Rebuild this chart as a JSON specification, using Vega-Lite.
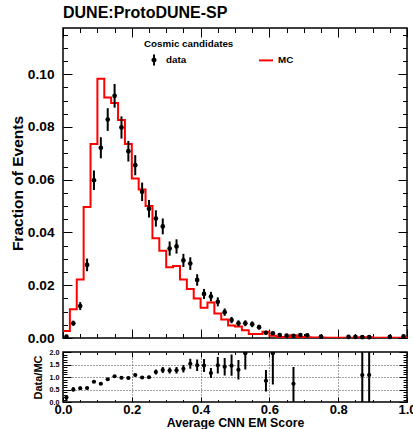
{
  "$schema": "https://vega.github.io/schema/vega-lite/v6.json",
  "background": "white",
  "padding": {"left": 9, "top": 3, "right": 5, "bottom": 0},
  "autosize": {"type": "pad"},
  "spacing": 1,
  "resolve": {"legend": {"color": "independent"}},
  "datasets": {
    "mc": [
      {"x": 0.00, "frac": 0.0027}, {"x": 0.02, "frac": 0.0109}, {"x": 0.04, "frac": 0.0222}, {"x": 0.06, "frac": 0.0497},
      {"x": 0.08, "frac": 0.0735}, {"x": 0.10, "frac": 0.0983}, {"x": 0.12, "frac": 0.0912}, {"x": 0.14, "frac": 0.0891},
      {"x": 0.16, "frac": 0.0826}, {"x": 0.18, "frac": 0.0735}, {"x": 0.20, "frac": 0.0605}, {"x": 0.22, "frac": 0.0563},
      {"x": 0.24, "frac": 0.0500}, {"x": 0.26, "frac": 0.0378}, {"x": 0.28, "frac": 0.0331}, {"x": 0.30, "frac": 0.0268},
      {"x": 0.32, "frac": 0.0273}, {"x": 0.34, "frac": 0.0222}, {"x": 0.36, "frac": 0.0186}, {"x": 0.38, "frac": 0.0150},
      {"x": 0.40, "frac": 0.0115}, {"x": 0.42, "frac": 0.0135}, {"x": 0.44, "frac": 0.0093}, {"x": 0.46, "frac": 0.0070},
      {"x": 0.48, "frac": 0.0047}, {"x": 0.50, "frac": 0.0044}, {"x": 0.52, "frac": 0.0029}, {"x": 0.54, "frac": 0.0015},
      {"x": 0.56, "frac": 0.0015}, {"x": 0.58, "frac": 0.0024}, {"x": 0.60, "frac": 0.0009}, {"x": 0.62, "frac": 0.0004},
      {"x": 0.64, "frac": 0.0004}, {"x": 0.66, "frac": 0.0010}, {"x": 0.68, "frac": 0.0004}, {"x": 0.70, "frac": 0.0003},
      {"x": 0.72, "frac": 0.0002}, {"x": 0.74, "frac": 0.0002}, {"x": 0.76, "frac": 0.0001}, {"x": 0.78, "frac": 0.0001},
      {"x": 0.80, "frac": 0.0001}, {"x": 0.82, "frac": 0.0001}, {"x": 0.84, "frac": 0.0001}, {"x": 0.86, "frac": 0.0003},
      {"x": 0.88, "frac": 0.0003}, {"x": 0.90, "frac": 0.0001}, {"x": 0.92, "frac": 0.0001}, {"x": 0.94, "frac": 0.0001},
      {"x": 0.96, "frac": 0.0001}, {"x": 0.98, "frac": 0.0001}, {"x": 1.00, "frac": 0.0001}
    ],
    "obs": [
      {"x": 0.01, "frac": 0.0005, "err": 0.0003}, {"x": 0.03, "frac": 0.0056, "err": 0.0010},
      {"x": 0.05, "frac": 0.0121, "err": 0.0015}, {"x": 0.07, "frac": 0.0277, "err": 0.0024},
      {"x": 0.09, "frac": 0.0598, "err": 0.0037}, {"x": 0.11, "frac": 0.0721, "err": 0.0040},
      {"x": 0.13, "frac": 0.0828, "err": 0.0043}, {"x": 0.15, "frac": 0.0918, "err": 0.0045},
      {"x": 0.17, "frac": 0.0798, "err": 0.0042}, {"x": 0.19, "frac": 0.0708, "err": 0.0039},
      {"x": 0.21, "frac": 0.0655, "err": 0.0038}, {"x": 0.23, "frac": 0.0554, "err": 0.0035},
      {"x": 0.25, "frac": 0.0490, "err": 0.0033}, {"x": 0.27, "frac": 0.0453, "err": 0.0031},
      {"x": 0.29, "frac": 0.0423, "err": 0.0030}, {"x": 0.31, "frac": 0.0339, "err": 0.0027},
      {"x": 0.33, "frac": 0.0347, "err": 0.0027}, {"x": 0.35, "frac": 0.0294, "err": 0.0025},
      {"x": 0.37, "frac": 0.0282, "err": 0.0024}, {"x": 0.39, "frac": 0.0220, "err": 0.0022},
      {"x": 0.41, "frac": 0.0167, "err": 0.0019}, {"x": 0.43, "frac": 0.0157, "err": 0.0018},
      {"x": 0.45, "frac": 0.0137, "err": 0.0017}, {"x": 0.47, "frac": 0.0098, "err": 0.0014},
      {"x": 0.49, "frac": 0.0068, "err": 0.0012}, {"x": 0.51, "frac": 0.0056, "err": 0.0011},
      {"x": 0.53, "frac": 0.0056, "err": 0.0011}, {"x": 0.55, "frac": 0.0052, "err": 0.0011},
      {"x": 0.57, "frac": 0.0041, "err": 0.0009}, {"x": 0.59, "frac": 0.0020, "err": 0.0007},
      {"x": 0.61, "frac": 0.0018, "err": 0.0006}, {"x": 0.63, "frac": 0.0011, "err": 0.0005},
      {"x": 0.65, "frac": 0.0009, "err": 0.0004}, {"x": 0.67, "frac": 0.0008, "err": 0.0004},
      {"x": 0.69, "frac": 0.0011, "err": 0.0005}, {"x": 0.71, "frac": 0.0010, "err": 0.0004},
      {"x": 0.75, "frac": 0.0005, "err": 0.0003}, {"x": 0.83, "frac": 0.0004, "err": 0.0003},
      {"x": 0.85, "frac": 0.0004, "err": 0.0003}, {"x": 0.87, "frac": 0.0003, "err": 0.0003},
      {"x": 0.89, "frac": 0.0003, "err": 0.0003}, {"x": 0.95, "frac": 0.0004, "err": 0.0003},
      {"x": 0.99, "frac": 0.0006, "err": 0.0003}
    ],
    "ratio": [
      {"x": 0.01, "r": 0.18, "lo": 0.08, "hi": 0.28}, {"x": 0.03, "r": 0.50, "lo": 0.42, "hi": 0.60},
      {"x": 0.05, "r": 0.55, "lo": 0.48, "hi": 0.62}, {"x": 0.07, "r": 0.56, "lo": 0.51, "hi": 0.61},
      {"x": 0.09, "r": 0.81, "lo": 0.76, "hi": 0.86}, {"x": 0.11, "r": 0.73, "lo": 0.68, "hi": 0.78},
      {"x": 0.13, "r": 0.91, "lo": 0.86, "hi": 0.96}, {"x": 0.15, "r": 1.03, "lo": 0.98, "hi": 1.08},
      {"x": 0.17, "r": 0.97, "lo": 0.92, "hi": 1.02}, {"x": 0.19, "r": 0.96, "lo": 0.91, "hi": 1.01},
      {"x": 0.21, "r": 1.08, "lo": 1.02, "hi": 1.14}, {"x": 0.23, "r": 0.98, "lo": 0.92, "hi": 1.04},
      {"x": 0.25, "r": 0.99, "lo": 0.93, "hi": 1.05}, {"x": 0.27, "r": 1.20, "lo": 1.10, "hi": 1.30},
      {"x": 0.29, "r": 1.28, "lo": 1.16, "hi": 1.40}, {"x": 0.31, "r": 1.26, "lo": 1.14, "hi": 1.38},
      {"x": 0.33, "r": 1.27, "lo": 1.14, "hi": 1.40}, {"x": 0.35, "r": 1.33, "lo": 1.18, "hi": 1.48},
      {"x": 0.37, "r": 1.53, "lo": 1.33, "hi": 1.73}, {"x": 0.39, "r": 1.47, "lo": 1.24, "hi": 1.70},
      {"x": 0.41, "r": 1.46, "lo": 1.20, "hi": 1.72}, {"x": 0.43, "r": 1.16, "lo": 0.96, "hi": 1.36},
      {"x": 0.45, "r": 1.47, "lo": 1.14, "hi": 1.80}, {"x": 0.47, "r": 1.41, "lo": 1.06, "hi": 1.76},
      {"x": 0.49, "r": 1.45, "lo": 1.05, "hi": 1.90}, {"x": 0.51, "r": 1.29, "lo": 0.90, "hi": 1.68},
      {"x": 0.53, "r": 1.95, "lo": 1.30, "hi": 2.60}, {"x": 0.59, "r": 0.85, "lo": 0.42, "hi": 1.28},
      {"x": 0.61, "r": 1.95, "lo": 0.70, "hi": 3.20}, {"x": 0.67, "r": 0.73, "lo": 0.0, "hi": 1.40},
      {"x": 0.87, "r": 1.08, "lo": 0.0, "hi": 2.60}, {"x": 0.89, "r": 1.08, "lo": 0.0, "hi": 2.60}
    ]
  },
  "vconcat": [
    {
      "width": 344,
      "height": 310,
      "title": {"text": "DUNE:ProtoDUNE-SP", "anchor": "start", "frame": "group", "font": "Liberation Sans", "fontSize": 16, "fontWeight": "bold", "color": "black", "offset": 7},
      "resolve": {"axis": {"x": "independent", "y": "independent"}},
      "layer": [
        {
          "data": {"name": "mc"},
          "mark": {"type": "line", "interpolate": "step-after", "strokeWidth": 2, "clip": true},
          "encoding": {
            "x": {"field": "x", "type": "quantitative", "scale": {"domain": [0, 1], "nice": false, "zero": false},
              "axis": {"orient": "bottom", "values": [0,0.05,0.1,0.15,0.2,0.25,0.3,0.35,0.4,0.45,0.5,0.55,0.6,0.65,0.7,0.75,0.8,0.85,0.9,0.95,1.0],
                "labels": false, "title": null, "domain": false, "grid": false, "tickColor": "black", "tickWidth": 1,
                "tickSize": {"condition": {"test": "abs(datum.value*5 - round(datum.value*5)) < 0.001", "value": -9}, "value": -4.5}}},
            "y": {"field": "frac", "type": "quantitative", "scale": {"domain": [0, 0.1175], "nice": false},
              "axis": {"orient": "left", "values": [0,0.005,0.01,0.015,0.02,0.025,0.03,0.035,0.04,0.045,0.05,0.055,0.06,0.065,0.07,0.075,0.08,0.085,0.09,0.095,0.1,0.105,0.11,0.115],
                "labelExpr": "abs(datum.value*50 - round(datum.value*50)) < 0.001 ? format(datum.value, '.2f') : ''",
                "labelOverlap": false, "labelFlush": false, "labelPadding": 18, "labelFontSize": 13.7, "labelFontWeight": "bold",
                "title": "Fraction of Events", "titleFontSize": 15.5, "titleFontWeight": "bold", "titlePadding": 2,
                "domain": false, "grid": false, "tickColor": "black", "tickWidth": 1,
                "tickSize": {"condition": {"test": "abs(datum.value*50 - round(datum.value*50)) < 0.001", "value": -9}, "value": -4.5}}},
            "color": {"datum": "MC", "scale": {"domain": ["data", "MC"], "range": ["black", "#ff0000"]},
              "legend": {"orient": "none", "legendX": 81, "legendY": 11, "direction": "horizontal", "title": "Cosmic candidates",
                "titleFont": "Liberation Sans", "titleFontSize": 9.8, "titleFontWeight": "bold", "titleColor": "black", "titlePadding": 4,
                "labelFont": "Liberation Sans", "labelFontSize": 9.8, "labelFontWeight": "bold", "labelColor": "black", "labelOffset": 5,
                "symbolSize": 196, "symbolOffset": 3, "columnPadding": 69, "padding": 0,
                "encode": {"symbols": {"update": {
                  "shape": {"signal": "datum.value === 'MC' ? 'M-1,-0.14H1V0.14H-1Z' : 'M-0.14,-0.8H0.14V0.8H-0.14Z M-0.36,0A0.36,0.36 0 1,1 0.36,0A0.36,0.36 0 1,1 -0.36,0Z'"},
                  "fill": {"signal": "datum.value === 'MC' ? '#ff0000' : 'black'"},
                  "fillOpacity": {"value": 1},
                  "stroke": {"value": "transparent"},
                  "strokeWidth": {"value": 0},
                  "opacity": {"value": 1},
                  "size": {"value": 196}}}}}}
          }
        },
        {
          "data": {"name": "obs"},
          "mark": {"type": "errorbar", "thickness": 2},
          "encoding": {
            "x": {"field": "x", "type": "quantitative",
              "axis": {"orient": "top", "values": [0,0.05,0.1,0.15,0.2,0.25,0.3,0.35,0.4,0.45,0.5,0.55,0.6,0.65,0.7,0.75,0.8,0.85,0.9,0.95,1.0],
                "labels": false, "title": null, "domain": false, "grid": false, "tickColor": "black", "tickWidth": 1,
                "tickSize": {"condition": {"test": "abs(datum.value*5 - round(datum.value*5)) < 0.001", "value": -9}, "value": -4.5}}},
            "y": {"field": "frac", "type": "quantitative",
              "axis": {"orient": "right", "values": [0,0.005,0.01,0.015,0.02,0.025,0.03,0.035,0.04,0.045,0.05,0.055,0.06,0.065,0.07,0.075,0.08,0.085,0.09,0.095,0.1,0.105,0.11,0.115],
                "labels": false, "title": null, "domain": false, "grid": false, "tickColor": "black", "tickWidth": 1,
                "tickSize": {"condition": {"test": "abs(datum.value*50 - round(datum.value*50)) < 0.001", "value": -9}, "value": -4.5}}},
            "yError": {"field": "err"},
            "color": {"datum": "data"}
          }
        },
        {
          "data": {"name": "obs"},
          "mark": {"type": "point", "filled": true, "size": 22, "opacity": 1},
          "encoding": {
            "x": {"field": "x", "type": "quantitative", "axis": null},
            "y": {"field": "frac", "type": "quantitative", "axis": null},
            "color": {"datum": "data"}
          }
        }
      ]
    },
    {
      "width": 344,
      "height": 50,
      "data": {"name": "ratio"},
      "resolve": {"axis": {"x": "independent", "y": "independent"}},
      "layer": [
        {
          "mark": {"type": "rule", "strokeWidth": 2, "color": "black", "clip": true},
          "encoding": {
            "x": {"field": "x", "type": "quantitative", "scale": {"domain": [0, 1], "nice": false, "zero": false},
              "axis": {"orient": "bottom", "values": [0,0.05,0.1,0.15,0.2,0.25,0.3,0.35,0.4,0.45,0.5,0.55,0.6,0.65,0.7,0.75,0.8,0.85,0.9,0.95,1.0],
                "labelExpr": "abs(datum.value*5 - round(datum.value*5)) < 0.001 ? format(datum.value, '.1f') : ''",
                "labelOverlap": false, "labelFlush": false, "labelPadding": 6, "labelFontSize": 13, "labelFontWeight": "bold",
                "title": "Average CNN EM Score", "titleFontSize": 12.3, "titleFontWeight": "bold", "titlePadding": -2,
                "domain": false, "grid": true, "gridColor": "#444444", "gridDash": [1, 2], "gridWidth": 1,
                "gridOpacity": {"condition": {"test": "abs(datum.value*5 - round(datum.value*5)) < 0.001", "value": 1}, "value": 0},
                "tickColor": "black", "tickWidth": 1,
                "tickSize": {"condition": {"test": "abs(datum.value*5 - round(datum.value*5)) < 0.001", "value": -5}, "value": -2.5}}},
            "y": {"field": "lo", "type": "quantitative", "scale": {"domain": [0, 2], "nice": false, "zero": false},
              "axis": {"orient": "left", "values": [0,0.1,0.2,0.3,0.4,0.5,0.6,0.7,0.8,0.9,1.0,1.1,1.2,1.3,1.4,1.5,1.6,1.7,1.8,1.9,2.0],
                "labelExpr": "abs(datum.value*2 - round(datum.value*2)) < 0.001 ? format(datum.value, '.1f') : ''",
                "labelOverlap": false, "labelFlush": false, "labelPadding": 12, "labelFontSize": 7.2, "labelFontWeight": "bold",
                "title": "Data/MC", "titleFontSize": 11, "titleFontWeight": "bold", "titlePadding": 6,
                "domain": false, "grid": true, "gridColor": "#444444", "gridDash": [1, 2], "gridWidth": 1,
                "gridOpacity": {"condition": {"test": "abs(datum.value*2 - round(datum.value*2)) < 0.001", "value": 1}, "value": 0},
                "tickColor": "black", "tickWidth": 1,
                "tickSize": {"condition": {"test": "abs(datum.value*2 - round(datum.value*2)) < 0.001", "value": -8}, "value": -4}}},
            "y2": {"field": "hi"}
          }
        },
        {
          "mark": {"type": "point", "filled": true, "size": 18, "color": "black", "opacity": 1, "clip": true},
          "encoding": {
            "x": {"field": "x", "type": "quantitative",
              "axis": {"orient": "top", "values": [0,0.05,0.1,0.15,0.2,0.25,0.3,0.35,0.4,0.45,0.5,0.55,0.6,0.65,0.7,0.75,0.8,0.85,0.9,0.95,1.0],
                "labels": false, "title": null, "domain": false, "grid": false, "tickColor": "black", "tickWidth": 1,
                "tickSize": {"condition": {"test": "abs(datum.value*5 - round(datum.value*5)) < 0.001", "value": -5}, "value": -2.5}}},
            "y": {"field": "r", "type": "quantitative",
              "axis": {"orient": "right", "values": [0,0.1,0.2,0.3,0.4,0.5,0.6,0.7,0.8,0.9,1.0,1.1,1.2,1.3,1.4,1.5,1.6,1.7,1.8,1.9,2.0],
                "labels": false, "title": null, "domain": false, "grid": false, "tickColor": "black", "tickWidth": 1,
                "tickSize": {"condition": {"test": "abs(datum.value*2 - round(datum.value*2)) < 0.001", "value": -8}, "value": -4}}}
          }
        }
      ]
    }
  ],
  "config": {
    "font": "Liberation Sans",
    "view": {"stroke": "black", "strokeWidth": 1.5},
    "axis": {"labelFont": "Liberation Sans", "titleFont": "Liberation Sans", "labelColor": "black", "titleColor": "black"},
    "legend": {"labelFont": "Liberation Sans", "titleFont": "Liberation Sans"}
  }
}
